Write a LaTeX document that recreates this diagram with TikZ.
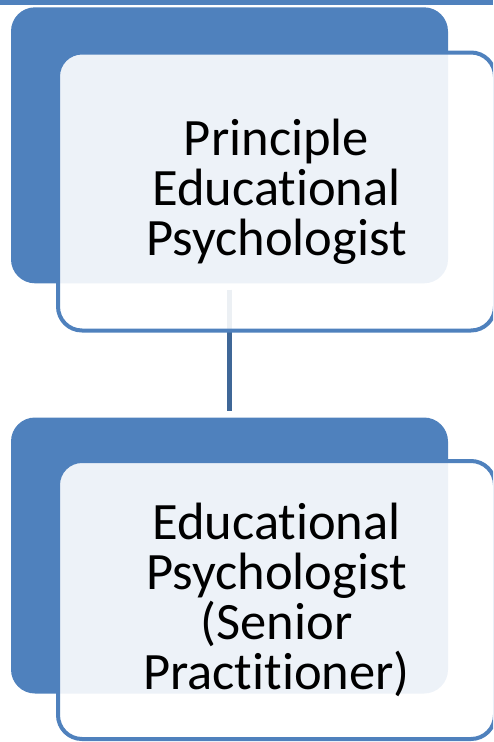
\documentclass[tikz,border=0pt]{standalone}
\usepackage{fontspec}
\setmainfont[Ligatures=NoCommon]{Carlito}
\definecolor{accent}{HTML}{4F81BD}
\definecolor{linkblue}{HTML}{3F6797}
\begin{document}
\begin{tikzpicture}[x=1pt,y=-1pt,
  backbox/.style={fill=accent, rounded corners=24pt, minimum width=437pt,
    minimum height=276pt, inner sep=0pt},
  frontbox/.style={draw=accent, line width=4pt, fill=white, fill opacity=0.9,
    text opacity=1, rounded corners=24pt, minimum width=437pt,
    minimum height=278pt, inner sep=0pt, align=center, text=black,
    font=\fontsize{52.5}{50}\selectfont},
  link/.style={draw=linkblue, line width=4.5pt}]
  % page frame
  \clip (0,0) rectangle (493,742);
  % edge of the level above
  \fill[accent] (0,0) rectangle (493,5);
  % solid back panels
  \node[backbox] (b1) at (229.5,145.3) {};
  \node[backbox] (b2) at (229.5,555.5) {};
  % link between the levels
  \draw[link, shorten <=6pt, shorten >=6pt] (b1.south) -- (b2.north);
  % outlined front panels with labels
  \node[frontbox] (f1) at (276.5,191.5) {Principle\\Educational\\Psychologist};
  \node[frontbox] (f2) at (276.5,600) {Educational\\Psychologist\\(Senior\\Practitioner)};
\end{tikzpicture}
\end{document}
